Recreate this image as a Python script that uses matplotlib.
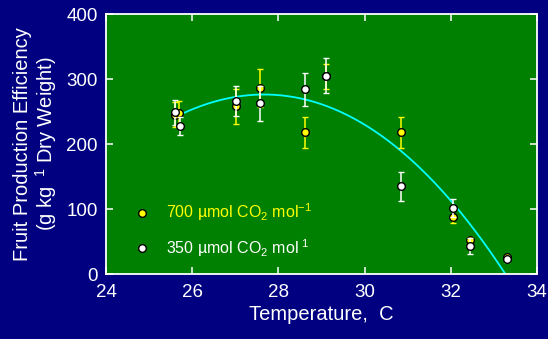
import numpy as np
import matplotlib.pyplot as plt
from matplotlib.lines import Line2D

plt.rcParams['font.family'] = ['Liberation Sans', 'DejaVu Sans']
plt.rcParams['mathtext.fontset'] = 'custom'
plt.rcParams['mathtext.rm'] = 'Liberation Sans'
plt.rcParams['mathtext.default'] = 'regular'

# 700 umol CO2 mol-1 (yellow)
t_700 = [25.60, 25.69, 27.02, 27.57, 28.62, 29.10, 30.85, 32.05, 32.45, 33.30]
y_700 = [245, 248, 258, 286, 218, 304, 218, 88, 52, 26]
e_700 = [19, 18, 27, 29, 24, 19, 24, 10, 5, 4]

# 350 umol CO2 mol-1 (white)
t_350 = [25.60, 25.72, 27.02, 27.57, 28.62, 29.10, 30.85, 32.05, 32.45, 33.30]
y_350 = [249, 228, 266, 263, 284, 305, 135, 101, 43, 23]
e_350 = [19, 14, 23, 27, 25, 27, 22, 14, 12, 4]

# points
curve_t = [25.60, 26.57, 27.70, 28.50, 29.43, 30.85, 32.05, 33.28]
curve_y = [242, 265, 275, 273, 247, 194, 104, 0]

fig = plt.figure(figsize=(5.48, 3.39), dpi=100, facecolor='#000080')
ax = fig.add_axes([0.1934, 0.1917, 0.7866, 0.767])
ax.set_facecolor('#008000')

coef = np.polyfit(curve_t, curve_y, 3)
tt = np.linspace(curve_t[0], curve_t[-1], 200)
ax.plot(tt, np.polyval(coef, tt), color='#00ffff', lw=1.3, zorder=2)

ax.errorbar(t_700, y_700, yerr=e_700, fmt='o', color='#ffff00', ecolor='#ffff00',
            mfc='#ffff00', mec='black', mew=1.0, ms=5.5, elinewidth=1.1,
            capsize=2.5, capthick=1.1, zorder=3)
ax.errorbar(t_350, y_350, yerr=e_350, fmt='o', color='white', ecolor='white',
            mfc='white', mec='black', mew=1.0, ms=5.5, elinewidth=1.1,
            capsize=2.5, capthick=1.1, zorder=4)

ax.set_xlim(24, 34)
ax.set_ylim(0, 400)
ax.set_xticks(np.arange(24, 35, 2))
ax.set_yticks(np.arange(0, 401, 100))

for s in ax.spines.values():
    s.set_color('white')
    s.set_linewidth(1.3)
ax.tick_params(direction='in', top=True, right=True, color='white',
               labelcolor='white', labelsize=13.5, length=5, width=1.1)
ax.tick_params(axis='x', pad=7)
ax.tick_params(axis='y', pad=6)

ax.set_xlabel('Temperature,  C', color='white', fontsize=14.5, labelpad=3)
ax.set_ylabel('Fruit Production Efficiency\n' + r'(g kg$^{\ \ 1}$ Dry Weight)',
              color='white', fontsize=14.5, labelpad=5, linespacing=1.05)

# legend: markers only, no error bars
h700 = Line2D([], [], ls='none', marker='o', mfc='#ffff00', mec='black', mew=1.0, ms=5.5)
h350 = Line2D([], [], ls='none', marker='o', mfc='white', mec='black', mew=1.0, ms=5.5)
leg = ax.legend([h700, h350],
                [r'700 µmol CO$_2$ mol$^{-1}$', r'350 µmol CO$_2$ mol$^{\ 1}$'],
                loc='lower left', bbox_to_anchor=(0.05, 0.035), frameon=False,
                fontsize=11.5, handlelength=1.0, handletextpad=1.0,
                labelspacing=0.85, borderaxespad=0)
for txt, c in zip(leg.get_texts(), ['#ffff00', 'white']):
    txt.set_color(c)

fig.savefig('out.png', dpi=100, facecolor=fig.get_facecolor())
